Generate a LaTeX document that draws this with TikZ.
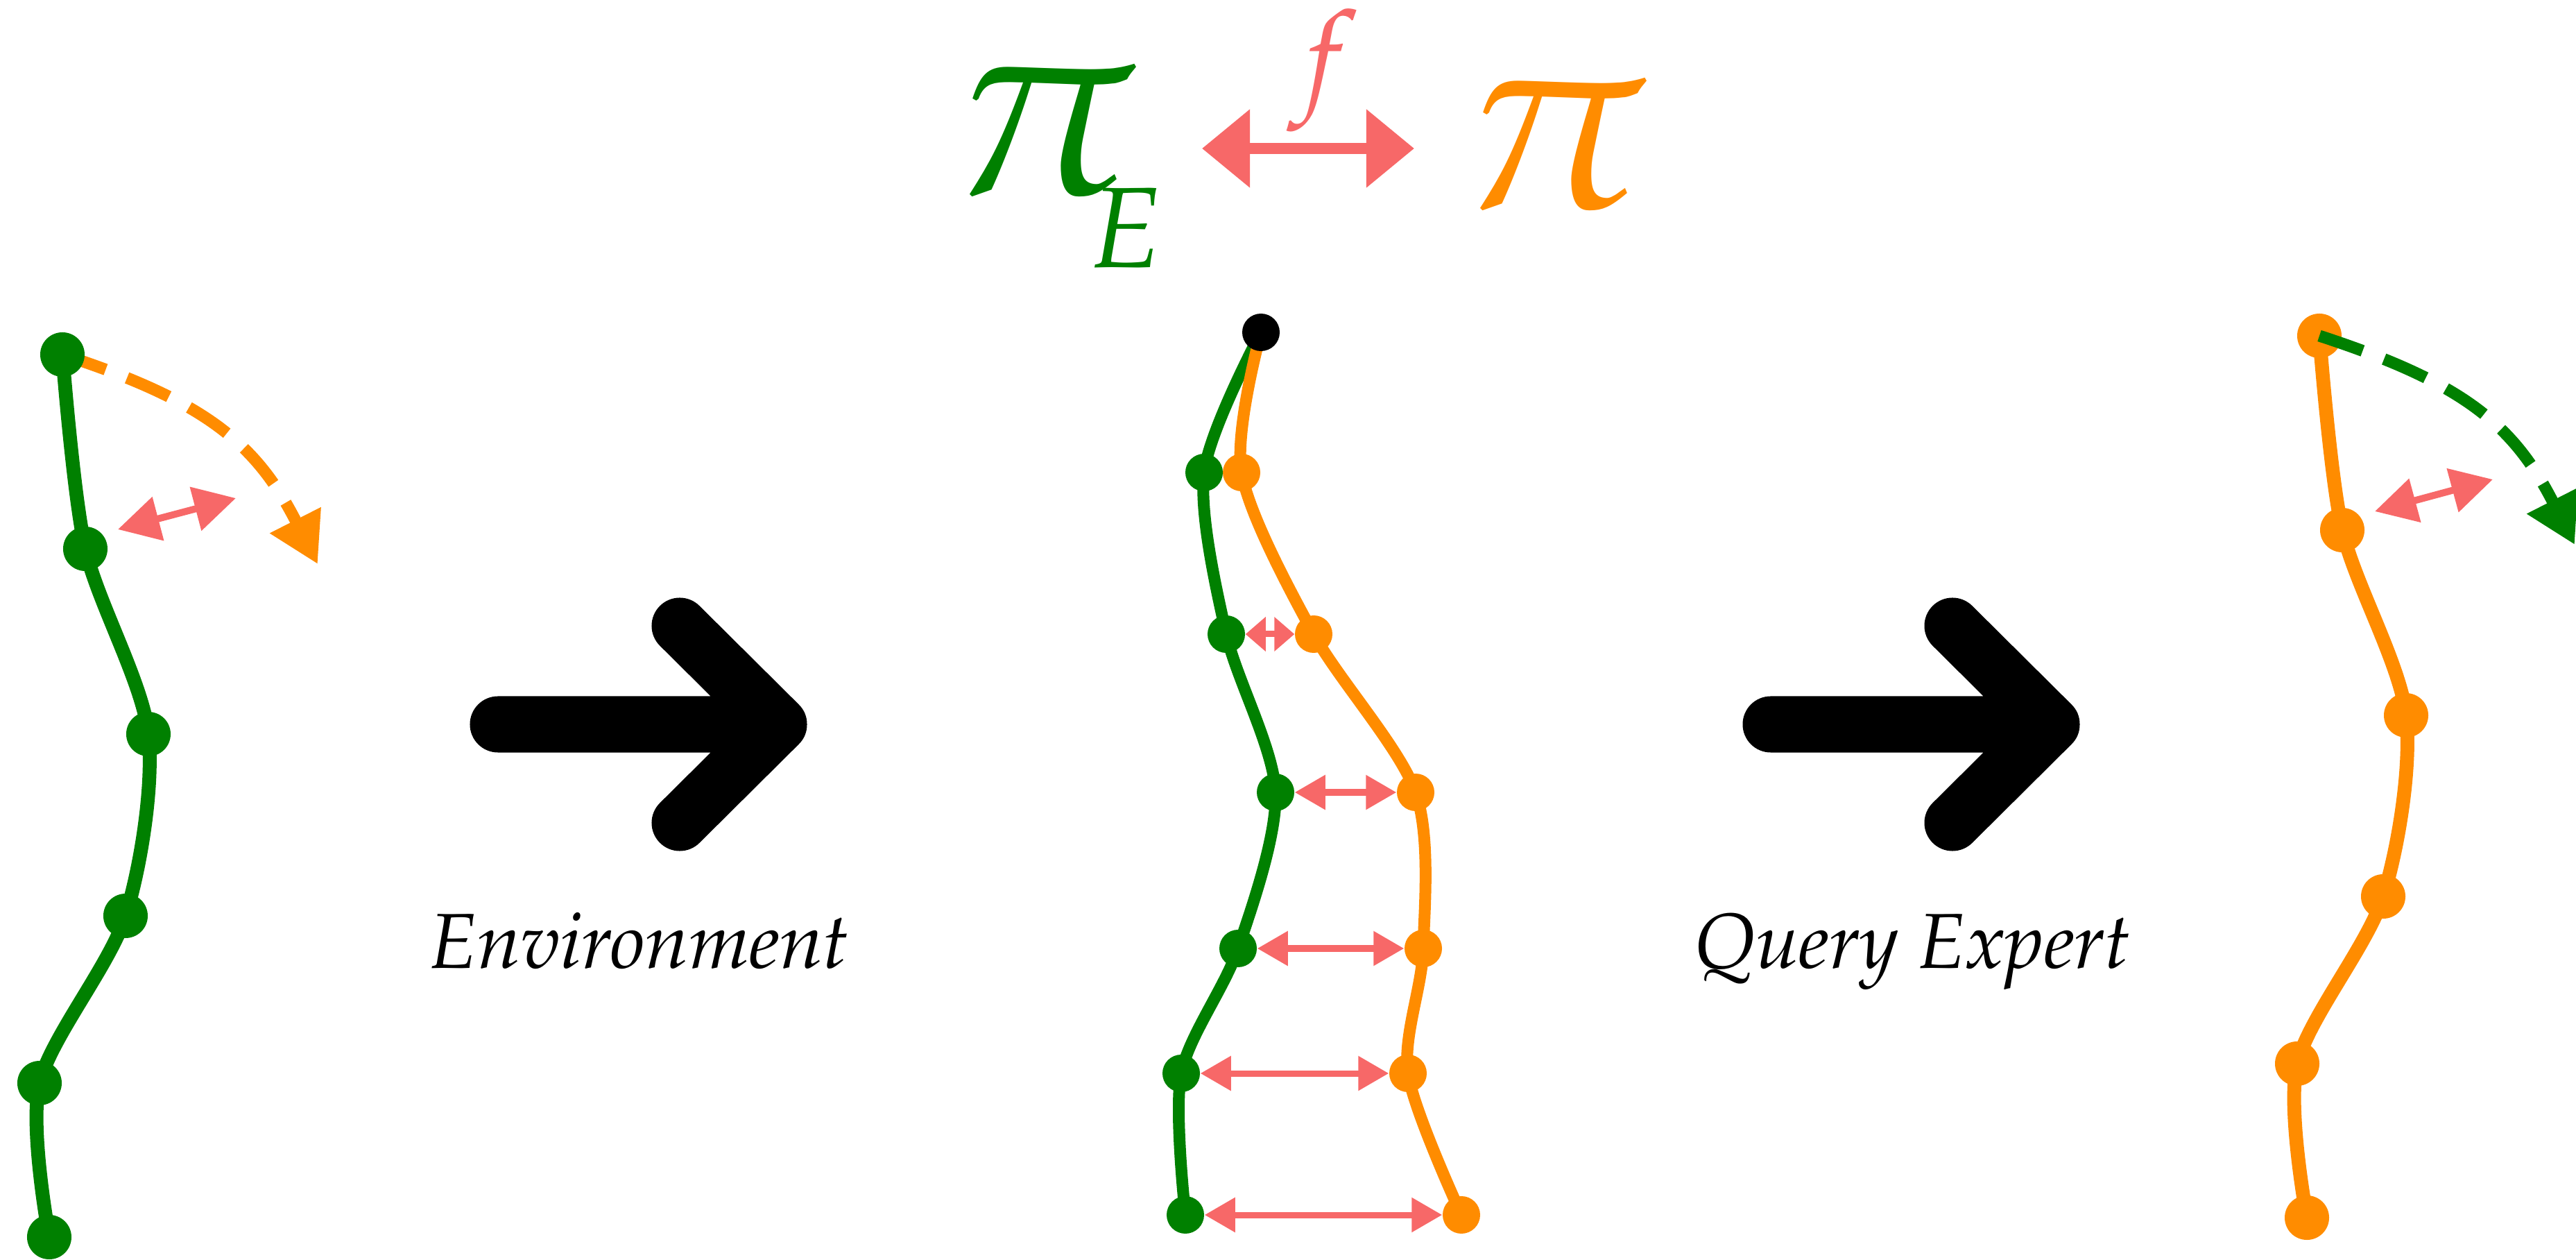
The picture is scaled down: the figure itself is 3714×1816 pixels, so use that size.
\documentclass[tikz,border=0pt]{standalone}
\usepackage[T1]{fontenc}
\usepackage{mathpazo}
\usepackage{tikz}
\usetikzlibrary{arrows.meta,positioning,calc}
\definecolor{expgreen}{RGB}{0,128,0}
\definecolor{polorange}{RGB}{255,140,0}
\definecolor{gapred}{RGB}{247,104,104}
\pgfdeclarelayer{back}
\pgfsetlayers{back,main}

\begin{document}
\begin{tikzpicture}[x=0.01cm, y=-0.01cm,
  waypt/.style={circle, fill=#1, inner sep=0pt, minimum size=0.64cm},
  mwaypt/.style={circle, fill=#1, inner sep=0pt, minimum size=0.54cm},
  traj/.style={draw=#1, line width=0.2cm, line cap=round, line join=round},
  mtraj/.style={draw=#1, line width=0.17cm, line cap=round, line join=round},
  guess/.style={draw=#1, line width=0.17cm, dash pattern=on 0.66cm off 0.33cm, -{Triangle[length=0.71cm, width=0.78cm]}},
  gapar/.style={draw=gapred, line width=0.09cm, {Triangle[length=#1, width=0.48cm]}-{Triangle[length=#1, width=0.48cm]}},
  gapar/.default=0.44cm,
  sgapar/.style={draw=gapred, line width=0.1cm, {Triangle[length=0.6cm, width=0.63cm]}-{Triangle[length=0.6cm, width=0.63cm]}},
  fgapar/.style={draw=gapred, line width=0.16cm, {Triangle[length=0.69cm, width=1.09cm]}-{Triangle[length=0.69cm, width=1.09cm]}},
  bigarrow/.style={draw=black, line width=0.81cm, line cap=round, line join=round},
  lbl/.style={font=\fontsize{32}{38}\selectfont\itshape, inner sep=0pt},
  sym/.style={font=\fontsize{108}{120}\selectfont, inner sep=0pt},
  fsym/.style={font=\fontsize{50}{56}\selectfont, inner sep=0pt}]
\useasboundingbox (0,0) rectangle (3714,1816);

% expert rollout, left
\node[waypt=expgreen] (g1) at (90,511) {};
\node[waypt=expgreen] (g2) at (123,791) {};
\node[waypt=expgreen] (g3) at (214,1058) {};
\node[waypt=expgreen] (g4) at (181,1320) {};
\node[waypt=expgreen] (g5) at (57,1561) {};
\node[waypt=expgreen] (g6) at (71,1783) {};
\coordinate (gtip) at (458,813);
\coordinate (ga) at (170,763);
\coordinate (gb) at (340,718);
\begin{pgfonlayer}{back}
\draw[traj=expgreen] plot[smooth] coordinates {(g1.center) (g2.center) (g3.center) (g4.center) (g5.center) (g6.center)};
\draw[guess=polorange] (g1.center) .. controls (295,578) and (369,638) .. (gtip);
\end{pgfonlayer}
\draw[sgapar] (ga) -- (gb);

% environment step
\coordinate (envL) at (718,1044);
\coordinate (envR) at (1123,1044);
\draw[bigarrow] (envL) -- (envR) ++(-143,-142) -- (envR) -- ++(-143,142);
\node[lbl, anchor=base] (envtxt) at (922,1396) {Environment};

% both rollouts from the same start
\node[mwaypt=black] (st) at (1818,479) {};
\node[mwaypt=expgreen] (e1) at (1736,681) {};
\node[mwaypt=expgreen] (e2) at (1768,914) {};
\node[mwaypt=expgreen] (e3) at (1839,1142) {};
\node[mwaypt=expgreen] (e4) at (1785,1367) {};
\node[mwaypt=expgreen] (e5) at (1703,1547) {};
\node[mwaypt=expgreen] (e6) at (1709,1751) {};
\node[mwaypt=polorange] (q1) at (1790,681) {};
\node[mwaypt=polorange] (q2) at (1894,914) {};
\node[mwaypt=polorange] (q3) at (2041,1142) {};
\node[mwaypt=polorange] (q4) at (2052,1367) {};
\node[mwaypt=polorange] (q5) at (2030,1547) {};
\node[mwaypt=polorange] (q6) at (2107,1751) {};
\begin{pgfonlayer}{back}
\draw[mtraj=expgreen] plot[smooth] coordinates {(st.center) (e1.center) (e2.center) (e3.center) (e4.center) (e5.center) (e6.center)};
\draw[mtraj=polorange] plot[smooth] coordinates {(st.center) (q1.center) (q2.center) (q3.center) (q4.center) (q5.center) (q6.center)};
\end{pgfonlayer}
\draw[gapar=0.29cm] (e2) -- (q2);
\draw[gapar] (e3) -- (q3);
\draw[gapar] (e4) -- (q4);
\draw[gapar] (e5) -- (q5);
\draw[gapar] (e6) -- (q6);

% divergence between policies
\node[sym, text=expgreen, anchor=base west] (piE) at (1366,280) {$\pi$\kern-21pt\lower30pt\hbox{\fontsize{47}{50}\selectfont$E$}};
\node[sym, text=polorange, anchor=base west] (piL) at (2102,300) {$\pi$};
\coordinate (fl) at (1733,214);
\coordinate (fr) at (2039,214);
\draw[fgapar] (fl) -- (fr);
\node[fsym, text=gapred, anchor=base] (flab) at (1908,142) {$f$};

% query step
\coordinate (qeL) at (2553,1044);
\coordinate (qeR) at (2958,1044);
\draw[bigarrow] (qeL) -- (qeR) ++(-143,-142) -- (qeR) -- ++(-143,142);
\node[lbl, anchor=base] (qetxt) at (2758,1396) {Query Expert};

% learner rollout, right
\node[waypt=polorange] (r1) at (3344,484) {};
\node[waypt=polorange] (r2) at (3377,764) {};
\node[waypt=polorange] (r3) at (3469,1031) {};
\node[waypt=polorange] (r4) at (3436,1292) {};
\node[waypt=polorange] (r5) at (3312,1533) {};
\node[waypt=polorange] (r6) at (3326,1755) {};
\coordinate (rtip) at (3712,785);
\coordinate (ra) at (3424,737);
\coordinate (rb) at (3594,691);
\begin{pgfonlayer}{back}
\draw[traj=polorange] plot[smooth] coordinates {(r1.center) (r2.center) (r3.center) (r4.center) (r5.center) (r6.center)};
\end{pgfonlayer}
\draw[guess=expgreen] (r1.center) .. controls (3549,551) and (3623,610) .. (rtip);
\draw[sgapar] (ra) -- (rb);
\end{tikzpicture}
\end{document}
